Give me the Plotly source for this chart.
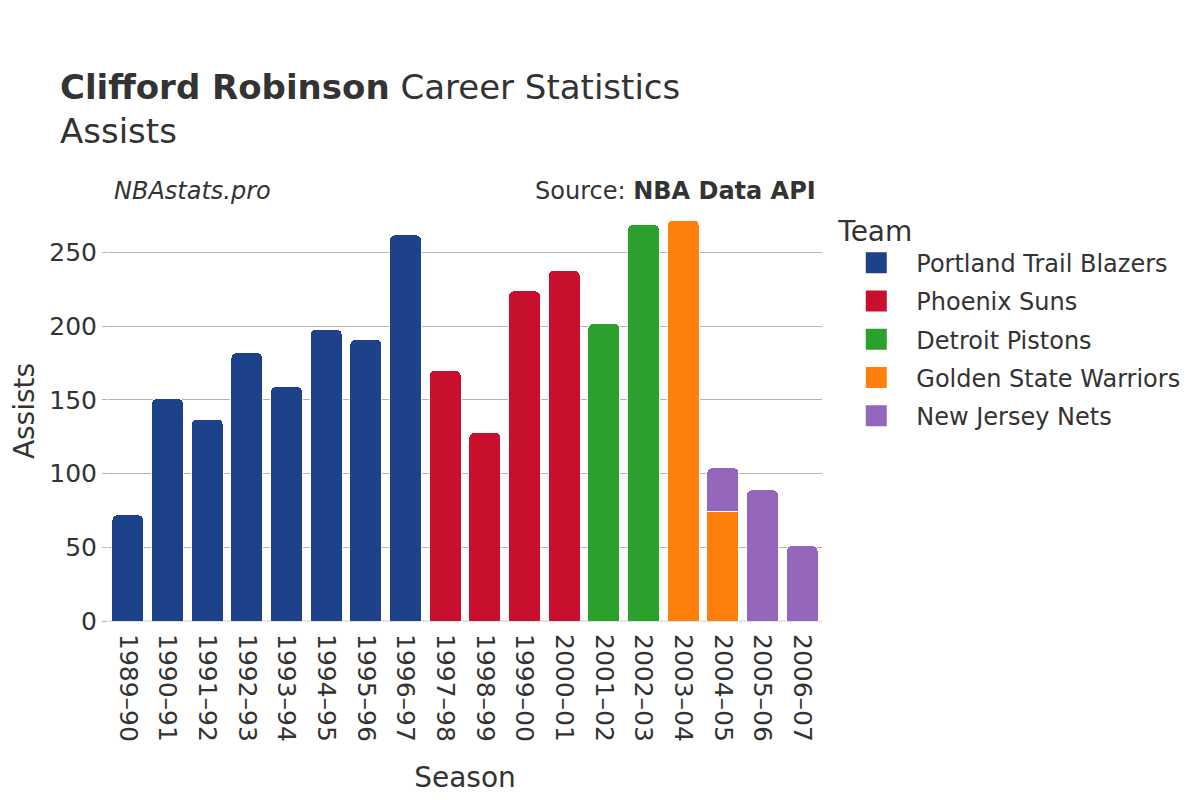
import plotly.graph_objects as go

seasons = ["1989–90", "1990–91", "1991–92", "1992–93", "1993–94", "1994–95", "1995–96",
           "1996–97", "1997–98", "1998–99", "1999–00", "2000–01", "2001–02", "2002–03",
           "2003–04", "2004–05", "2005–06", "2006–07"]

teams = ["Portland Trail Blazers", "Phoenix Suns", "Detroit Pistons",
         "Golden State Warriors", "New Jersey Nets"]
colors = ["#1D428A", "#C8102E", "#2CA02C", "#FF7F0E", "#9467BD"]

por_seasons = ["1989–90", "1990–91", "1991–92", "1992–93", "1993–94", "1994–95", "1995–96", "1996–97"]
por_ast = [72, 151, 137, 182, 159, 198, 191, 262]
phx_seasons = ["1997–98", "1998–99", "1999–00", "2000–01"]
phx_ast = [170, 128, 224, 238]
det_seasons = ["2001–02", "2002–03"]
det_ast = [202, 269]
gsw_seasons = ["2003–04", "2004–05"]
gsw_ast = [272, 74]
njn_seasons = ["2004–05", "2005–06", "2006–07"]
njn_ast = [30, 89, 51]

data = [(por_seasons, por_ast), (phx_seasons, phx_ast), (det_seasons, det_ast),
        (gsw_seasons, gsw_ast), (njn_seasons, njn_ast)]

font = "DejaVu Sans"
fig = go.Figure()
for team, color, (xs, ys) in zip(teams, colors, data):
    fig.add_trace(go.Bar(x=xs, y=ys, name=team, showlegend=False, legendgroup=team,
                         marker=dict(color=color, line=dict(width=1, color="white"))))
for team, color in zip(teams, colors):
    fig.add_trace(go.Scatter(x=[None], y=[None], mode="markers", name=team, legendgroup=team,
                             marker=dict(symbol="square", size=16, color=color,
                                         line=dict(width=5, color=color))))

fig.update_layout(
    width=1200, height=800,
    barmode="stack", bargap=0.2, barcornerradius=5,
    plot_bgcolor="white", paper_bgcolor="white",
    font=dict(family=font, size=24, color="#333333"),
    title=dict(text="<b>Clifford Robinson</b> Career Statistics<br>Assists",
               x=0.0433, xanchor="left", y=0.886, yanchor="top",
               font=dict(family=font, size=34, color="#333333")),
    margin=dict(l=100, r=386, t=193, b=187),
    legend=dict(title=dict(text="Team", font=dict(size=28)), x=1.02, y=0.992,
                xanchor="left", yanchor="top", font=dict(size=24), itemsizing="trace",
                itemwidth=70, traceorder="grouped", tracegroupgap=4),
    xaxis=dict(categoryorder="array", categoryarray=seasons, tickangle=90,
               title=dict(text="Season", font=dict(size=28), standoff=26), showgrid=False,
               tickfont=dict(size=25), ticklabelstandoff=12, automargin=False),
    yaxis=dict(title=dict(text="Assists", font=dict(size=28)), showgrid=True,
               range=[0, 285], autorange=False,
               gridcolor="#b3b3b3", gridwidth=1, ticks="outside", ticklen=5,
               tickcolor="#b3b3b3", zeroline=True, zerolinecolor="#e5e5e5", zerolinewidth=2,
               tickfont=dict(size=25), automargin=False),
    annotations=[
        dict(text="<i>NBAstats.pro</i>", x=0.006, y=0.986, xref="paper", yref="paper",
             xanchor="left", yanchor="bottom", showarrow=False, font=dict(size=24, color="#333333")),
        dict(text="Source: <b>NBA Data API</b>", x=0.994, y=0.986, xref="paper", yref="paper",
             xanchor="right", yanchor="bottom", showarrow=False, font=dict(size=24, color="#333333")),
    ],
)
fig.write_html("out.html")
